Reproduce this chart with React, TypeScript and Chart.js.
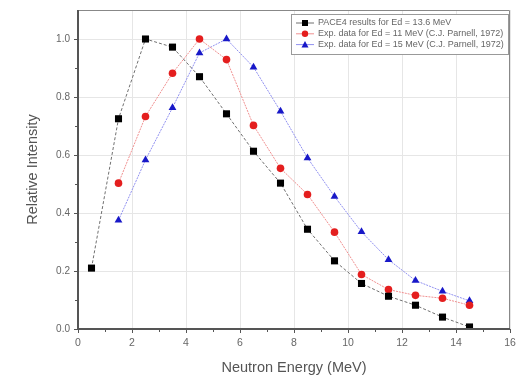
import React, { useEffect, useRef } from "react";
import { Chart, registerables } from "chart.js";
Chart.register(...registerables);

const energies = [0.5, 1.5, 2.5, 3.5, 4.5, 5.5, 6.5, 7.5, 8.5, 9.5, 10.5, 11.5, 12.5, 13.5, 14.5];
const paceValues = [0.21, 0.725, 1.0, 0.972, 0.87, 0.742, 0.613, 0.503, 0.344, 0.235, 0.157, 0.113, 0.082, 0.041, 0.007];
const exp11Energies = [1.5, 2.5, 3.5, 4.5, 5.5, 6.5, 7.5, 8.5, 9.5, 10.5, 11.5, 12.5, 13.5, 14.5];
const exp11Values = [0.503, 0.733, 0.882, 1.0, 0.929, 0.702, 0.554, 0.464, 0.334, 0.188, 0.136, 0.116, 0.106, 0.082];
const exp15Energies = [1.5, 2.5, 3.5, 4.5, 5.5, 6.5, 7.5, 8.5, 9.5, 10.5, 11.5, 12.5, 13.5, 14.5];
const exp15Values = [0.375, 0.583, 0.763, 0.952, 1.0, 0.903, 0.751, 0.59, 0.457, 0.335, 0.239, 0.167, 0.13, 0.097];
const seriesLabels = [
  "PACE4 results for Ed = 13.6 MeV",
  "Exp. data for Ed = 11 MeV (C.J. Parnell, 1972)",
  "Exp. data for Ed = 15 MeV (C.J. Parnell, 1972)",
];
const xTicks = [0, 2, 4, 6, 8, 10, 12, 14, 16];
const yTicks = [0, 0.2, 0.4, 0.6, 0.8, 1.0];
const xMinor = [1, 3, 5, 7, 9, 11, 13, 15];
const yMinor = [0.1, 0.3, 0.5, 0.7, 0.9];

const FONT = "Arial, 'Liberation Sans', sans-serif";

const framePlugin = {
  id: "frame",
  afterDraw(chart: any) {
    const { ctx, chartArea: a, scales } = chart;
    ctx.save();
    ctx.strokeStyle = "#888";
    ctx.lineWidth = 1;
    ctx.beginPath();
    ctx.moveTo(a.left, a.top + 0.5);
    ctx.lineTo(a.right - 0.5, a.top + 0.5);
    ctx.lineTo(a.right - 0.5, a.bottom);
    ctx.stroke();
    ctx.strokeStyle = "#555";
    ctx.lineWidth = 2;
    ctx.beginPath();
    ctx.moveTo(a.left, a.top);
    ctx.lineTo(a.left, a.bottom);
    ctx.lineTo(a.right, a.bottom);
    ctx.stroke();
    ctx.lineWidth = 1;
    ctx.beginPath();
    for (const v of xMinor) {
      const px = Math.round(scales.x.getPixelForValue(v)) + 0.5;
      ctx.moveTo(px, a.bottom);
      ctx.lineTo(px, a.bottom + 3);
    }
    for (const v of yMinor) {
      const py = Math.round(scales.y.getPixelForValue(v)) + 0.5;
      ctx.moveTo(a.left, py);
      ctx.lineTo(a.left - 3, py);
    }
    ctx.stroke();

    // legend box
    const boxL = a.left + 213;
    const boxT = a.top + 4;
    const boxW = a.right - 1 - boxL;
    const boxH = 41;
    ctx.fillStyle = "#fff";
    ctx.fillRect(boxL, boxT, boxW, boxH);
    ctx.strokeStyle = "#999";
    ctx.lineWidth = 1;
    ctx.strokeRect(boxL + 0.5, boxT + 0.5, boxW - 1, boxH - 1);
    ctx.font = `9px ${FONT}`;
    ctx.textBaseline = "middle";
    chart.data.datasets.forEach((ds: any, i: number) => {
      const cy = boxT + 9 + i * 10.8;
      const mx = boxL + 14;
      ctx.strokeStyle = ds.borderColor;
      ctx.lineWidth = 1;
      ctx.setLineDash([]);
      ctx.beginPath();
      ctx.moveTo(boxL + 5, cy);
      ctx.lineTo(boxL + 23, cy);
      ctx.stroke();
      ctx.fillStyle = ds.backgroundColor;
      ctx.beginPath();
      if (ds.pointStyle === "rect") {
        ctx.rect(mx - 3, cy - 3, 6, 6);
      } else if (ds.pointStyle === "circle") {
        ctx.arc(mx, cy, 3.2, 0, Math.PI * 2);
      } else {
        ctx.moveTo(mx, cy - 3.5);
        ctx.lineTo(mx + 3.5, cy + 3);
        ctx.lineTo(mx - 3.5, cy + 3);
        ctx.closePath();
      }
      ctx.fill();
      ctx.fillStyle = "#666";
      ctx.textAlign = "left";
      ctx.fillText(ds.label, boxL + 27, cy);
    });
    ctx.restore();
  },
};

export default function App() {
  const ref = useRef<HTMLCanvasElement | null>(null);
  useEffect(() => {
    document.body.style.margin = "0";
    const chart = new Chart(ref.current as HTMLCanvasElement, {
      type: "scatter",
      data: {
        datasets: [
          {
            label: seriesLabels[0],
            data: energies.map((x, i) => ({ x, y: paceValues[i] })),
            showLine: true,
            borderColor: "#707070",
            borderWidth: 1,
            borderDash: [3, 2],
            backgroundColor: "#000",
            pointBorderColor: "#000",
            pointBorderWidth: 0,
            pointStyle: "rect",
            pointRadius: 5,
            pointHoverRadius: 5,
          },
          {
            label: seriesLabels[1],
            data: exp11Energies.map((x, i) => ({ x, y: exp11Values[i] })),
            showLine: true,
            borderColor: "#f09090",
            borderWidth: 1,
            borderDash: [2, 1],
            backgroundColor: "#e41e1e",
            pointBorderColor: "#e41e1e",
            pointBorderWidth: 0,
            pointStyle: "circle",
            pointRadius: 3.8,
            pointHoverRadius: 3.8,
          },
          {
            label: seriesLabels[2],
            data: exp15Energies.map((x, i) => ({ x, y: exp15Values[i] })),
            showLine: true,
            borderColor: "#9090f0",
            borderWidth: 1,
            borderDash: [2, 1],
            backgroundColor: "#1818c8",
            pointBorderColor: "#1818c8",
            pointBorderWidth: 0,
            pointStyle: "triangle",
            pointRadius: 4.5,
            pointHoverRadius: 4.5,
          },
        ],
      },
      options: {
        animation: false,
        responsive: false,
        maintainAspectRatio: false,
        layout: { padding: { left: 0, right: 11, top: 6, bottom: 0 } },
        plugins: {
          tooltip: { enabled: false },
          legend: { display: false },
        },
        scales: {
          x: {
            type: "linear",
            min: 0,
            max: 16,
            afterBuildTicks: (s: any) => {
              s.ticks = xTicks.map((v) => ({ value: v }));
            },
            afterFit: (s: any) => {
              s.height = 48;
            },
            grid: { color: "#e6e6e6", tickLength: 4, tickColor: "#555" },
            border: { display: false },
            ticks: { color: "#666", font: { size: 10.5, family: FONT }, padding: 4 },
            title: {
              display: true,
              text: "Neutron Energy (MeV)",
              color: "#555",
              font: { size: 14.5, family: FONT },
              padding: { top: 3, bottom: 0 },
            },
          },
          y: {
            type: "linear",
            min: 0,
            max: 1.1,
            afterBuildTicks: (s: any) => {
              s.ticks = yTicks.map((v) => ({ value: v }));
            },
            afterFit: (s: any) => {
              s.width = 78;
            },
            grid: { color: "#e6e6e6", tickLength: 4, tickColor: "#555" },
            border: { display: false },
            ticks: {
              color: "#666",
              font: { size: 10, family: FONT },
              padding: 4,
              callback: (v: any) => Number(v).toFixed(1),
            },
            title: {
              display: true,
              text: "Relative Intensity",
              color: "#555",
              font: { size: 14.5, family: FONT },
              padding: { top: 24, bottom: 0 },
            },
          },
        },
      },
      plugins: [framePlugin],
    });
    return () => chart.destroy();
  }, []);
  return (
    <div style={{ position: "fixed", left: 0, top: 0, width: 521, height: 377 }}>
      <canvas ref={ref} width={521} height={377} style={{ width: 521, height: 377 }} />
    </div>
  );
}
